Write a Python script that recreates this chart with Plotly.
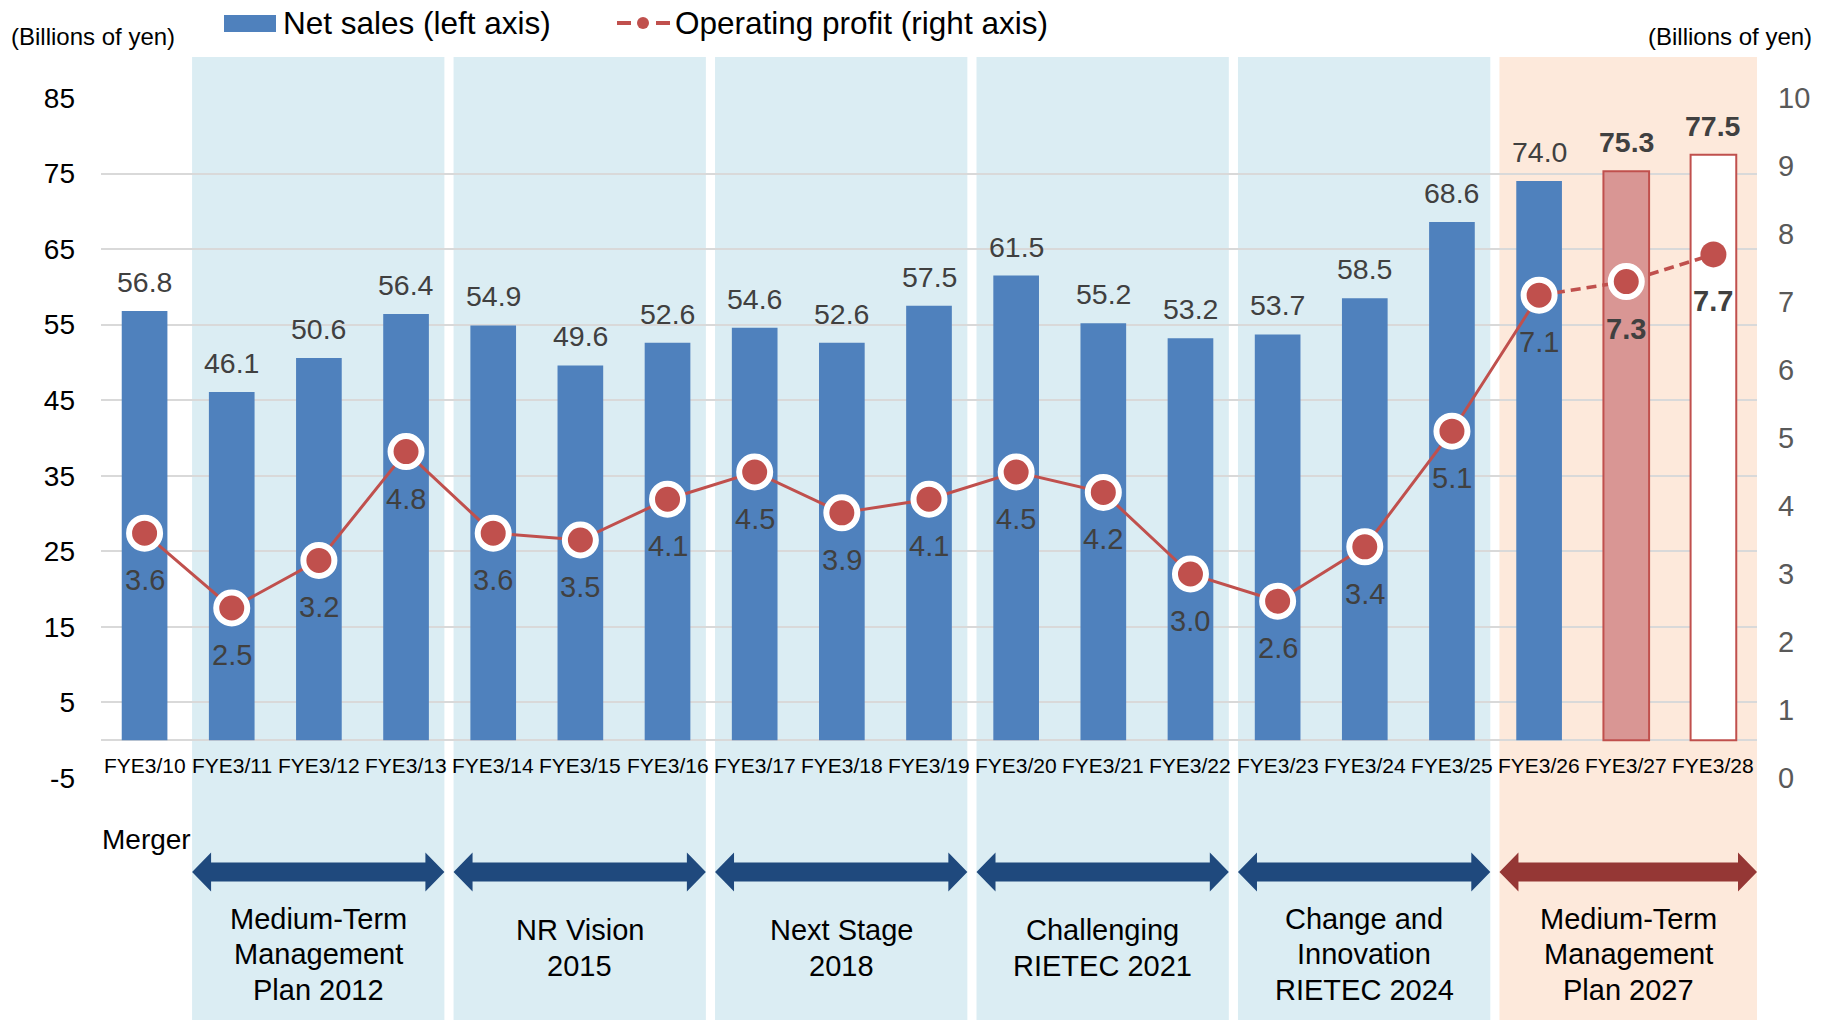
import plotly.graph_objects as go

categories = ["FYE3/10", "FYE3/11", "FYE3/12", "FYE3/13", "FYE3/14", "FYE3/15", "FYE3/16",
              "FYE3/17", "FYE3/18", "FYE3/19", "FYE3/20", "FYE3/21", "FYE3/22", "FYE3/23",
              "FYE3/24", "FYE3/25", "FYE3/26", "FYE3/27", "FYE3/28"]
net_sales = [56.8, 46.1, 50.6, 56.4, 54.9, 49.6, 52.6, 54.6, 52.6, 57.5, 61.5, 55.2, 53.2, 53.7,
             58.5, 68.6, 74.0, 75.3, 77.5]
op_profit = [3.6, 2.5, 3.2, 4.8, 3.6, 3.5, 4.1, 4.5, 3.9, 4.1, 4.5, 4.2, 3.0, 2.6, 3.4, 5.1,
             7.1, 7.3, 7.7]
plan_names = [["Medium-Term", "Management", "Plan 2012"], ["NR Vision", "2015"], ["Next Stage", "2018"],
              ["Challenging", "RIETEC 2021"], ["Change and", "Innovation", "RIETEC 2024"],
              ["Medium-Term", "Management", "Plan 2027"]]
plan_start = [1, 4, 7, 10, 13, 16]
plan_end = [3, 6, 9, 12, 15, 18]
left_ticks = [-5, 5, 15, 25, 35, 45, 55, 65, 75, 85]
left_tick_labels = ["-5", "5", "15", "25", "35", "45", "55", "65", "75", "85"]
right_ticks = [0, 1, 2, 3, 4, 5, 6, 7, 8, 9, 10]

FONT = "Liberation Sans, Arial, sans-serif"
BLUE = "#4F81BD"
RED = "#C0504D"
W, H = 1831, 1020
ML, MR, MT, MB = 101, 74, 98, 242
PW = W - ML - MR
PH = H - MT - MB
N = len(categories)
n_actual = 17  # FYE3/10 .. FYE3/26 actual; 27, 28 plan


def px_x(px):
    return (px - ML) / PW


def px_y(py):
    return (H - MB - py) / PH


def cat_x(v):
    return (v + 0.5) / N


fig = go.Figure()

bar_colors = [BLUE] * n_actual + ["#D99694", "#FFFFFF"]
bar_line_colors = [BLUE] * n_actual + [RED, RED]
bar_line_widths = [0] * n_actual + [2, 2]
fig.add_trace(go.Bar(x=categories, y=net_sales, width=0.524, yaxis="y",
                     marker=dict(color=bar_colors, line=dict(color=bar_line_colors, width=bar_line_widths)),
                     hoverinfo="skip", showlegend=False))

fig.add_trace(go.Scatter(x=categories[:n_actual], y=op_profit[:n_actual], yaxis="y2", mode="lines",
                         line=dict(color=RED, width=3), hoverinfo="skip", showlegend=False))
fig.add_trace(go.Scatter(x=categories[n_actual - 1:], y=op_profit[n_actual - 1:], yaxis="y2", mode="lines",
                         line=dict(color=RED, width=3.5, dash="10px,6px"), hoverinfo="skip", showlegend=False))
fig.add_trace(go.Scatter(x=categories, y=op_profit, yaxis="y2", mode="markers",
                         marker=dict(color=RED, opacity=1, size=[31] * (N - 1) + [26],
                                     line=dict(color="white", width=[6] * (N - 1) + [0])),
                         hoverinfo="skip", showlegend=False))

shapes = []
annotations = []

# plan bands & arrows
for k, (s, e, name) in enumerate(zip(plan_start, plan_end, plan_names)):
    last = (k == len(plan_names) - 1)
    x0 = cat_x(s - 0.455)
    x1 = cat_x(18.5) if last else cat_x(e + 0.44)
    fill = "#FDE9DB" if last else "#DBEDF3"
    acol = "#953735" if last else "#1F497D"
    shapes.append(dict(type="rect", xref="paper", yref="paper", x0=x0, x1=x1,
                       y0=px_y(1020), y1=px_y(57), fillcolor=fill, line=dict(width=0), layer="below"))
    yc = px_y(872)
    s_h = 9.5 / PH
    h_h = 19.5 / PH
    hl = 19 / PW
    path = (f"M {x0},{yc} L {x0 + hl},{yc + h_h} L {x0 + hl},{yc + s_h} L {x1 - hl},{yc + s_h} "
            f"L {x1 - hl},{yc + h_h} L {x1},{yc} L {x1 - hl},{yc - h_h} L {x1 - hl},{yc - s_h} "
            f"L {x0 + hl},{yc - s_h} L {x0 + hl},{yc - h_h} Z")
    shapes.append(dict(type="path", xref="paper", yref="paper", path=path, fillcolor=acol,
                       line=dict(width=0), layer="above"))
    nl = len(name)
    center = 954 if nl == 3 else 948
    for j, line in enumerate(name):
        ypx = center + (j - (nl - 1) / 2) * 35.5
        annotations.append(dict(text=line, x=(x0 + x1) / 2, y=px_y(ypx), xref="paper", yref="paper",
                                xanchor="center", yanchor="middle", showarrow=False,
                                font=dict(family=FONT, size=29, color="#000000")))

# category labels
for c in categories:
    annotations.append(dict(text=c, x=c, y=px_y(765), xref="x", yref="paper", xanchor="center",
                            yanchor="middle", showarrow=False, font=dict(family=FONT, size=21, color="#000000")))

# data labels
for i, (c, v) in enumerate(zip(categories, net_sales)):
    t = f"{v:.1f}"
    if i >= n_actual:
        t = f"<b>{t}</b>"
    annotations.append(dict(text=t, x=c, y=v, xref="x", yref="y", yshift=29, xanchor="center",
                            yanchor="middle", showarrow=False, font=dict(family=FONT, size=28.5, color="#404040")))
for i, (c, v) in enumerate(zip(categories, op_profit)):
    t = f"{v:.1f}"
    if i >= n_actual:
        t = f"<b>{t}</b>"
    annotations.append(dict(text=t, x=c, y=v, xref="x", yref="y2", yshift=-47, xanchor="center",
                            yanchor="middle", showarrow=False, font=dict(family=FONT, size=29, color="#404040")))

# misc texts
annotations.append(dict(text="Merger", x=px_x(100), y=px_y(840), xref="paper", yref="paper", xanchor="left",
                        yanchor="middle", showarrow=False, font=dict(family=FONT, size=28, color="#000000")))
annotations.append(dict(text="(Billions of yen)", x=px_x(9), y=px_y(36), xref="paper", yref="paper",
                        xanchor="left", yanchor="middle", showarrow=False,
                        font=dict(family=FONT, size=24, color="#000000")))
annotations.append(dict(text="(Billions of yen)", x=px_x(1814), y=px_y(36), xref="paper", yref="paper",
                        xanchor="right", yanchor="middle", showarrow=False,
                        font=dict(family=FONT, size=24, color="#000000")))

# custom legend
shapes.append(dict(type="rect", xref="paper", yref="paper", x0=px_x(224), x1=px_x(276), y0=px_y(32),
                   y1=px_y(15), fillcolor=BLUE, line=dict(width=0), layer="above"))
annotations.append(dict(text="Net sales (left axis)", x=px_x(281), y=px_y(23), xref="paper", yref="paper",
                        xanchor="left", yanchor="middle", showarrow=False,
                        font=dict(family=FONT, size=31.5, color="#000000")))
for a, b in [(617, 631), (656, 670)]:
    shapes.append(dict(type="line", xref="paper", yref="paper", x0=px_x(a), x1=px_x(b), y0=px_y(23),
                       y1=px_y(23), line=dict(color=RED, width=4), layer="above"))
shapes.append(dict(type="circle", xref="paper", yref="paper", x0=px_x(637), x1=px_x(649), y0=px_y(29),
                   y1=px_y(17), fillcolor=RED, line=dict(width=0), layer="above"))
annotations.append(dict(text="Operating profit (right axis)", x=px_x(673), y=px_y(23), xref="paper",
                        yref="paper", xanchor="left", yanchor="middle", showarrow=False,
                        font=dict(family=FONT, size=31.5, color="#000000")))

fig.update_layout(
    width=W, height=H,
    margin=dict(l=ML, r=MR, t=MT, b=MB, pad=0),
    paper_bgcolor="white", plot_bgcolor="rgba(0,0,0,0)",
    font=dict(family=FONT),
    bargap=0.4,
    xaxis=dict(type="category", range=[-0.5, N - 0.5], showticklabels=False, showgrid=False,
               zeroline=False, showline=False, ticks=""),
    yaxis=dict(range=[-5, 85], tickvals=left_ticks, ticktext=left_tick_labels, showgrid=True,
               gridcolor="#D9D9D9", gridwidth=1.5,
               zeroline=True, zerolinecolor="#D9D9D9", zerolinewidth=1.5, showline=False, ticks="",
               ticklabelstandoff=25, tickfont=dict(family=FONT, size=28, color="#000000")),
    yaxis2=dict(range=[0, 10], tickvals=right_ticks, overlaying="y", side="right", showgrid=False,
                zeroline=False, showline=False, ticks="", ticklabelstandoff=20,
                tickfont=dict(family=FONT, size=29, color="#595959")),
    shapes=shapes,
    annotations=annotations,
    showlegend=False,
)

fig.write_html("out.html", config={"displayModeBar": False},
               post_script="document.body.style.margin='0px';document.body.style.overflow='hidden';")
